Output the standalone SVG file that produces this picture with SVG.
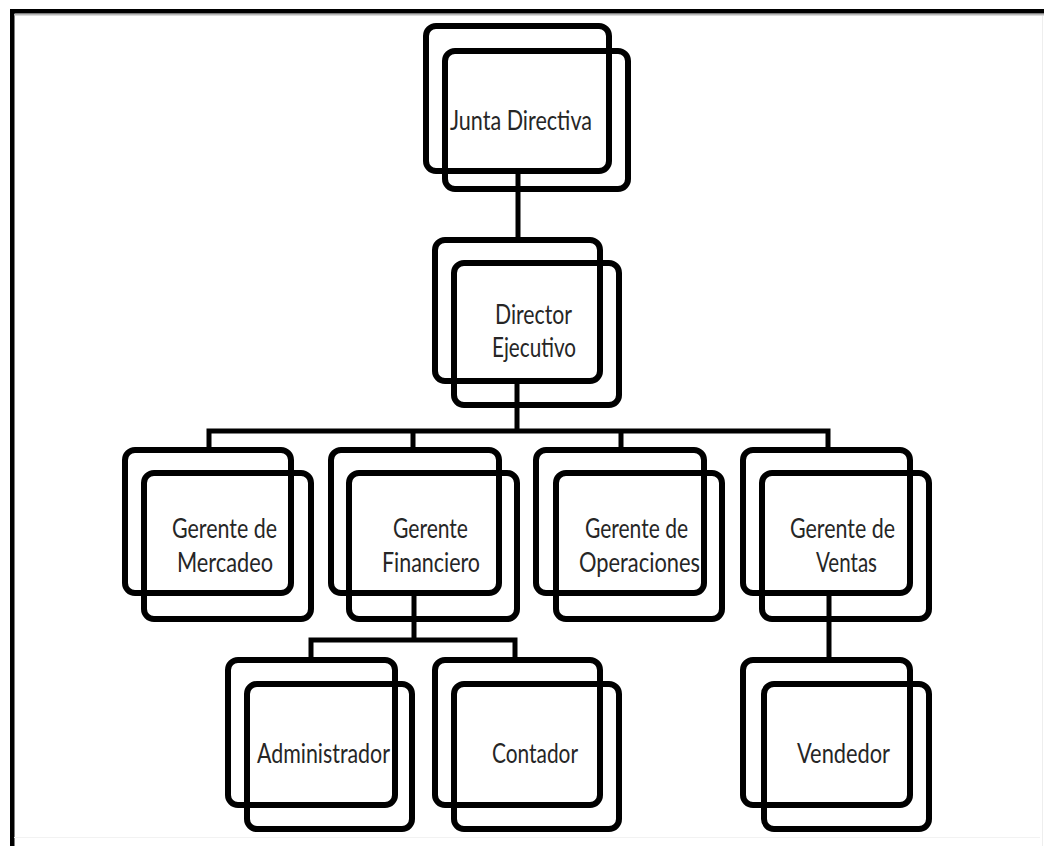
<svg xmlns="http://www.w3.org/2000/svg" width="1044" height="846" viewBox="0 0 1044 846">
<style>
.b{fill:none;stroke:#000;stroke-width:6}
.c{fill:none;stroke:#000;stroke-width:5}
.t{font-family:Lato,"Open Sans","Liberation Sans",sans-serif;font-size:27px;fill:#262626;text-anchor:middle}
</style>
<rect x="0" y="0" width="1044" height="846" fill="#fff"/>
<g id="frame">
<rect x="10" y="9" width="1034" height="4.5" fill="#000"/>
<rect x="10" y="9" width="4.5" height="837" fill="#000"/>
<line x1="14" y1="14.8" x2="1044" y2="14.8" stroke="#b8b8b8" stroke-width="1.5"/>
<line x1="1042.5" y1="16" x2="1042.5" y2="846" stroke="#eee" stroke-width="1"/>
<line x1="14" y1="837.5" x2="1040" y2="837.5" stroke="#f2f2f2" stroke-width="1"/>
</g>
<g id="connectors">
<path class="c" d="M518 171V240"/>
<path class="c" d="M517 381V431"/>
<path class="c" d="M206.5 431H830.5M209 431V450M413 431V450M621 431V450M828 431V450"/>
<path class="c" d="M414 593V640M308.5 640H517.5M311 640V660M515 640V660"/>
<path class="c" d="M829 593V660"/>
</g>
<g id="junta">
<rect class="b" x="426" y="26" width="183" height="145" rx="10"/>
<rect class="b" x="445" y="51" width="183" height="138" rx="10"/>
<text class="t" x="521" y="130" font-size="29" textLength="142" lengthAdjust="spacingAndGlyphs">Junta Directiva</text>
</g>
<g id="director">
<rect class="b" x="435" y="240" width="165" height="141" rx="10"/>
<rect class="b" x="454" y="263" width="165" height="142" rx="10"/>
<text class="t" x="533.5" y="324" textLength="77" lengthAdjust="spacingAndGlyphs">Director</text>
<text class="t" x="534" y="357" textLength="84" lengthAdjust="spacingAndGlyphs">Ejecutivo</text>
</g>
<g id="mercadeo">
<rect class="b" x="125" y="450" width="166" height="143" rx="10"/>
<rect class="b" x="144" y="473" width="167" height="146" rx="10"/>
<text class="t" x="224.5" y="538" textLength="105" lengthAdjust="spacingAndGlyphs">Gerente de</text>
<text class="t" x="225" y="572" textLength="96" lengthAdjust="spacingAndGlyphs">Mercadeo</text>
</g>
<g id="financiero">
<rect class="b" x="331" y="450" width="168" height="143" rx="10"/>
<rect class="b" x="349" y="473" width="168" height="146" rx="10"/>
<text class="t" x="430.5" y="538" textLength="75" lengthAdjust="spacingAndGlyphs">Gerente</text>
<text class="t" x="431" y="572" textLength="98" lengthAdjust="spacingAndGlyphs">Financiero</text>
</g>
<g id="operaciones">
<rect class="b" x="536" y="450" width="168" height="143" rx="10"/>
<rect class="b" x="556" y="473" width="166" height="146" rx="10"/>
<text class="t" x="636.5" y="538" textLength="103" lengthAdjust="spacingAndGlyphs">Gerente de</text>
<text class="t" x="639.5" y="572" textLength="121" lengthAdjust="spacingAndGlyphs">Operaciones</text>
</g>
<g id="ventas">
<rect class="b" x="743" y="450" width="167" height="143" rx="10"/>
<rect class="b" x="762" y="473" width="167" height="146" rx="10"/>
<text class="t" x="842.5" y="538" textLength="105" lengthAdjust="spacingAndGlyphs">Gerente de</text>
<text class="t" x="846.5" y="572" textLength="61" lengthAdjust="spacingAndGlyphs">Ventas</text>
</g>
<g id="administrador">
<rect class="b" x="228" y="660" width="167" height="145" rx="10"/>
<rect class="b" x="247" y="684" width="165" height="145" rx="10"/>
<text class="t" x="323.5" y="763" textLength="133" lengthAdjust="spacingAndGlyphs">Administrador</text>
</g>
<g id="contador">
<rect class="b" x="435" y="660" width="165" height="145" rx="10"/>
<rect class="b" x="454" y="684" width="165" height="145" rx="10"/>
<text class="t" x="535" y="763" textLength="86" lengthAdjust="spacingAndGlyphs">Contador</text>
</g>
<g id="vendedor">
<rect class="b" x="743" y="660" width="167" height="145" rx="10"/>
<rect class="b" x="764" y="684" width="165" height="145" rx="10"/>
<text class="t" x="843.5" y="763" textLength="93" lengthAdjust="spacingAndGlyphs">Vendedor</text>
</g>
</svg>
